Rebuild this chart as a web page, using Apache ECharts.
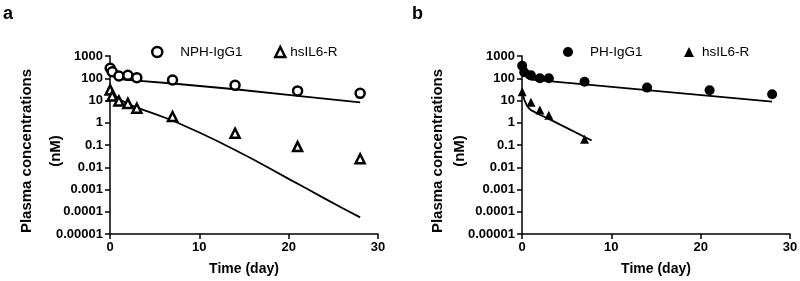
<!DOCTYPE html>
<html>
<head>
<meta charset="utf-8">
<script src="https://cdn.jsdelivr.net/npm/echarts@6/dist/echarts.min.js"></script>
<style>html,body{margin:0;padding:0;background:#fff}#c{width:800px;height:281px}</style>
</head>
<body>
<div id="c"></div>
<script>
// ---- Data ----
const xTicks = [0, 10, 20, 30];
const yTickLabels = ['0.00001', '0.0001', '0.001', '0.01', '0.1', '1', '10', '100', '1000'];

// Panel a
const timesA = [0.02, 0.25, 1, 2, 3, 7, 14, 21, 28];
const nphIgg1 = [280, 197, 126, 135, 106, 83, 48, 27, 21];
const il6rA = [30, 16, 9.5, 7.4, 4.5, 1.9, 0.34, 0.085, 0.024];
const fitTimesA_igg = [0, 0.25, 0.5, 1, 2, 3, 7, 14, 21, 28];
const fitA_igg = [250, 150, 110, 92, 85, 78, 58, 32, 16, 8.3];
const fitTimesA_il = [0, 0.25, 0.5, 1, 2, 3, 5, 7, 10, 12, 14, 16, 18, 20, 22, 24, 26, 28];
const fitA_il = [35, 25, 18, 12, 7, 4.8, 2.5, 1.26, 0.363, 0.151, 0.060, 0.0229, 0.0083, 0.0030, 0.0011, 0.0004, 0.000148, 0.000056];

// Panel b
const timesB = [0.02, 0.25, 1, 2, 3, 7, 14, 21, 28];
const phIgg1 = [366, 186, 135, 100, 100, 70, 38, 29, 19];
const timesB_il = [0.02, 1, 2, 3, 7];
const il6rB = [25, 8.3, 3.7, 2.2, 0.18];
const fitTimesB_igg = [0, 0.25, 0.5, 1, 2, 3, 7, 14, 21, 28];
const fitB_igg = [350, 160, 110, 88, 80, 74, 53, 29.5, 16.3, 8.9];
const fitTimesB_il = [0, 0.25, 0.5, 0.75, 1, 2, 3, 5, 7.8];
const fitB_il = [25, 11, 6.5, 4.6, 3.7, 2.3, 1.5, 0.59, 0.16];

const names = { a1: 'NPH-IgG1', a2: 'hsIL6-R ', b1: 'PH-IgG1', b2: 'hsIL6-R' };

// ---- helpers ----
const FONT = 'Liberation Sans, Arial, Helvetica, sans-serif';
const zip = (xs, ys) => xs.map((x, i) => [x, ys[i]]);
const yFmt = v => yTickLabels[Math.round(Math.log10(v)) + 5] || '';

function xAxis(gi) {
  return {
    type: 'value', gridIndex: gi, min: 0, max: 30, interval: 10,
    name: 'Time (day)', nameLocation: 'middle', nameGap: 28, nameMoveOverlap: false,
    nameTextStyle: { fontFamily: FONT, fontWeight: 'bold', fontSize: 14, color: '#000' },
    axisLine: { lineStyle: { color: '#000', width: 1.5 } },
    axisTick: { show: true, length: 5, lineStyle: { color: '#000', width: 1.5 } },
    axisLabel: { fontFamily: FONT, fontWeight: 'bold', fontSize: 13, color: '#000', margin: 7,
      formatter: v => xTicks.includes(v) ? String(v) : '' },
    splitLine: { show: false }
  };
}
function yAxis(gi, gap, lh) {
  return {
    type: 'log', logBase: 10, gridIndex: gi, min: 0.00001, max: 1000, interval: 1,
    name: 'Plasma concentrations\n(nM)', nameLocation: 'middle', nameRotate: 90, nameGap: gap,
    nameMoveOverlap: false,
    nameTextStyle: { fontFamily: FONT, fontWeight: 'bold', fontSize: 15, color: '#000', lineHeight: lh,
      padding: [0, 12, 0, 0] },
    axisLine: { show: true, lineStyle: { color: '#000', width: 1.5 } },
    axisTick: { show: true, length: 5, lineStyle: { color: '#000', width: 1.5 } },
    axisLabel: { fontFamily: FONT, fontWeight: 'bold', fontSize: 13, color: '#000', margin: 7, formatter: yFmt },
    splitLine: { show: false }
  };
}
function fitLine(gi, data) {
  return { type: 'line', xAxisIndex: gi, yAxisIndex: gi, data, showSymbol: false, symbol: 'none',
    smooth: false, lineStyle: { color: '#000', width: 1.8 }, z: 2, silent: true, animation: false };
}
function legendItem(name, left, textPad, icon, filled) {
  return {
    data: [{ name, icon }], left, top: 40, itemWidth: 10, itemHeight: 10,
    textStyle: { fontFamily: FONT, fontSize: 13.5, color: '#000', padding: [0, 0, 0, textPad] },
    itemStyle: filled ? { color: '#000', borderWidth: 0, opacity: 1 } : { color: '#fff', borderColor: '#000', borderWidth: 2.5, opacity: 1 },
    selectedMode: false
  };
}

const openStyle = { color: '#fff', borderColor: '#000', borderWidth: 2.5, opacity: 1 };
const fillStyle = { color: '#000', borderWidth: 0, opacity: 1 };

const option = {
  backgroundColor: '#fff',
  animation: false,
  title: [
    { text: 'a', left: -2, top: 0, textStyle: { fontFamily: FONT, fontWeight: 'bold', fontSize: 18, color: '#000' } },
    { text: 'b', left: 407, top: 0, textStyle: { fontFamily: FONT, fontWeight: 'bold', fontSize: 18, color: '#000' } }
  ],
  legend: [
    legendItem(names.a1, 146, 13, 'circle', false),
    legendItem(names.a2, 269, 0, 'triangle', false),
    legendItem(names.b1, 558, 12, 'circle', true),
    legendItem(names.b2, 679, 3, 'triangle', true)
  ],
  grid: [
    { left: 110, right: 422, top: 56, bottom: 47, outerBoundsMode: 'none', containLabel: false },
    { left: 522, right: 10, top: 56, bottom: 47, outerBoundsMode: 'none', containLabel: false }
  ],
  xAxis: [xAxis(0), xAxis(1)],
  yAxis: [yAxis(0, 40, 29), yAxis(1, 51, 22)],
  series: [
    fitLine(0, zip(fitTimesA_igg, fitA_igg)),
    fitLine(0, zip(fitTimesA_il, fitA_il)),
    { name: names.a1, type: 'scatter', xAxisIndex: 0, yAxisIndex: 0, data: zip(timesA, nphIgg1),
      symbol: 'circle', symbolSize: 9, itemStyle: openStyle, z: 3 },
    { name: names.a2, type: 'scatter', xAxisIndex: 0, yAxisIndex: 0, data: zip(timesA, il6rA),
      symbol: 'triangle', symbolSize: 9, itemStyle: openStyle, z: 3 },
    fitLine(1, zip(fitTimesB_igg, fitB_igg)),
    fitLine(1, zip(fitTimesB_il, fitB_il)),
    { name: names.b1, type: 'scatter', xAxisIndex: 1, yAxisIndex: 1, data: zip(timesB, phIgg1),
      symbol: 'circle', symbolSize: 10, itemStyle: fillStyle, z: 3 },
    { name: names.b2, type: 'scatter', xAxisIndex: 1, yAxisIndex: 1, data: zip(timesB_il, il6rB),
      symbol: 'triangle', symbolSize: 9, itemStyle: fillStyle, z: 3 }
  ]
};
const chart = echarts.init(document.getElementById('c'), null, { renderer: 'canvas' });
chart.setOption(option);
</script>
</body>
</html>
